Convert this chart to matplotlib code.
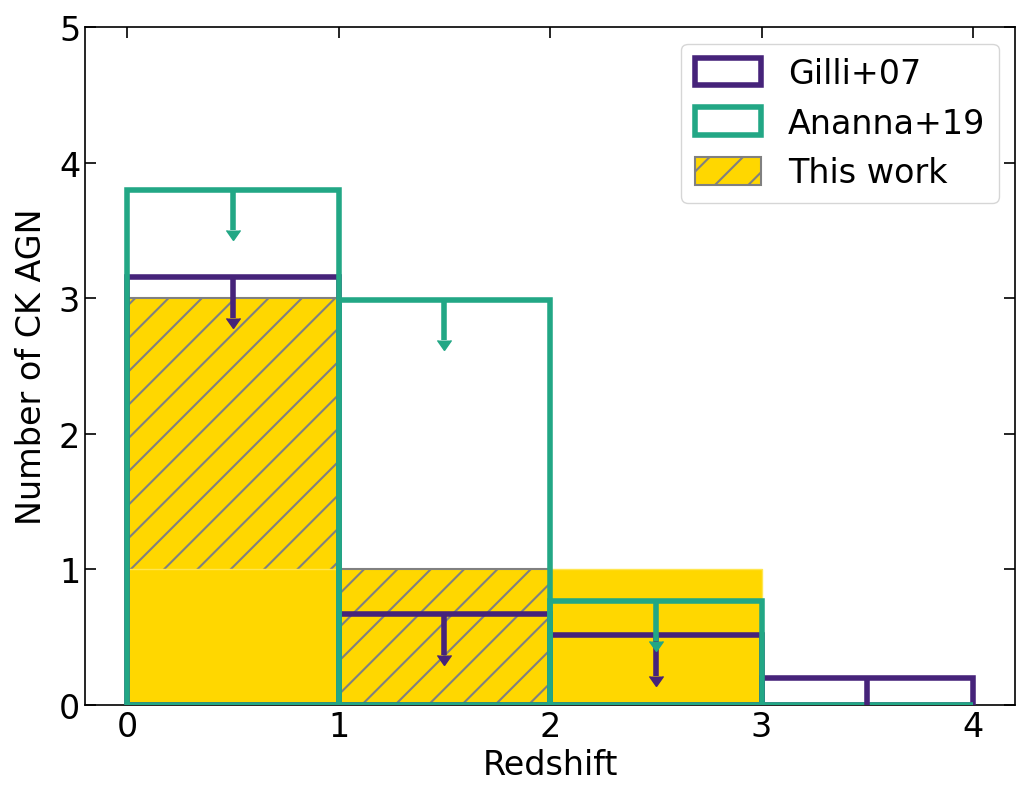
import matplotlib.pyplot as plt
import numpy as np

edges = np.array([0, 1, 2, 3, 4])
centers = edges[:-1] + 0.5
this_work_all = [3, 1, 0, 0]
this_work_solid = [1, 0, 1, 0]
gilli07 = [3.156, 0.67, 0.516, 0.2]
ananna19 = [3.80, 2.99, 0.77, 0.0]

purple = '#46237A'
green = '#22A785'
gold = '#FFD700'

plt.rcParams['font.size'] = 24
plt.rcParams['hatch.linewidth'] = 1.5
plt.rcParams['hatch.color'] = 'gray'

fig = plt.figure(figsize=(10.29, 8.04), dpi=100)
ax = fig.add_axes([0.0826, 0.1219, 0.904, 0.8433])

# hatched = all, solid = subset drawn on top
ax.bar(centers, this_work_all, width=1, facecolor=gold, edgecolor='gray',
       hatch='/', lw=1.5, label='This work', zorder=1)
ax.bar(centers, this_work_solid, width=1, facecolor=gold, edgecolor='#FFE650',
       lw=1, zorder=2)

ax.bar(centers, gilli07, width=1, fill=False, edgecolor=purple, lw=4,
       label='Gilli+07', zorder=3)
ax.bar(centers, ananna19, width=1, fill=False, edgecolor=green, lw=4,
       label='Ananna+19', zorder=4)

# upper-limit arrows
eb1 = ax.errorbar(centers, gilli07, yerr=0.3, uplims=True, fmt='none', ecolor=purple,
                  elinewidth=4, capsize=5, zorder=5)
eb2 = ax.errorbar(centers[:3], ananna19[:3], yerr=0.3, uplims=True, fmt='none', ecolor=green,
                  elinewidth=4, capsize=5, zorder=6)
for eb, c in [(eb1, purple), (eb2, green)]:
    for cl in eb[1]:
        cl.set_markeredgecolor(c)
        cl.set_markerfacecolor(c)

ax.set_xlim(-0.2, 4.2)
ax.set_ylim(0, 5)
ax.set_xticks([0, 1, 2, 3, 4])
ax.set_yticks([0, 1, 2, 3, 4, 5])
ax.tick_params(direction='in', top=True, right=True, length=8, width=1.2, labelsize=24)
for s in ax.spines.values():
    s.set_linewidth(1.2)
ax.set_xlabel('Redshift', fontsize=24)
ax.set_ylabel('Number of CK AGN', fontsize=24, labelpad=8)

h, l = ax.get_legend_handles_labels()
order = [l.index('Gilli+07'), l.index('Ananna+19'), l.index('This work')]
ax.legend([h[i] for i in order], [l[i] for i in order], loc='upper right',
          fontsize=24, handlelength=2.0, handleheight=0.9)

fig.savefig('out.png', dpi=100)
